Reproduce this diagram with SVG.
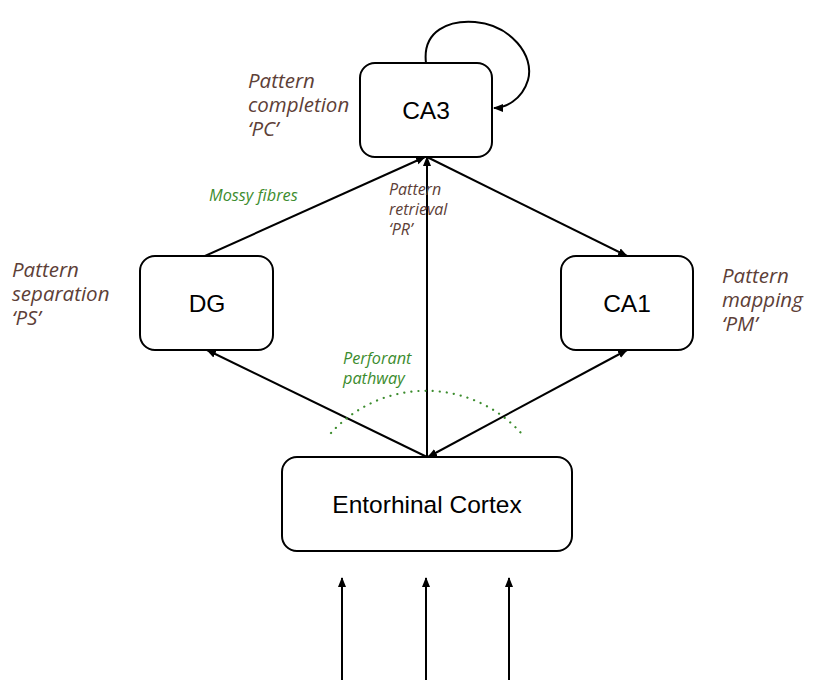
<svg xmlns="http://www.w3.org/2000/svg" width="814" height="697" viewBox="0 0 814 697">
<style>
.box{fill:#fff;stroke:#000;stroke-width:2}
.lbl{font-family:"Liberation Sans",Arial,sans-serif;font-size:24.5px;fill:#000;text-anchor:middle}
.note{font-family:"Open Sans","Noto Sans",sans-serif;font-style:italic;fill:#5d4037;font-size:20.5px}
.small{font-family:"Open Sans","Noto Sans",sans-serif;font-style:italic;fill:#5d4037;font-size:16px}
.green{font-family:"Open Sans","Noto Sans",sans-serif;font-style:italic;fill:#3c8c2e;font-size:16.3px}
.edge{fill:none;stroke:#000;stroke-width:2}
</style>
<defs>
<marker id="ahb" viewBox="0 0 10 10" refX="9" refY="5" markerWidth="10" markerHeight="10" orient="auto-start-reverse" markerUnits="userSpaceOnUse">
<path d="M0,1 L10,5 L0,9 z" fill="#000"/>
</marker>
</defs>
<rect width="814" height="697" fill="#fff"/>
<g id="connectors">
<path class="edge" d="M426,63 C422,30 450,20 475,22 C510,25 535,55 528,80 C522,100 505,108 494,108" marker-end="url(#ahb)"/>
<line class="edge" x1="205" y1="256" x2="425" y2="157" marker-end="url(#ahb)"/>
<line class="edge" x1="427" y1="457" x2="427" y2="157" marker-end="url(#ahb)"/>
<line class="edge" x1="427" y1="157" x2="627" y2="256" marker-end="url(#ahb)"/>
<line class="edge" x1="427" y1="457" x2="207" y2="350" marker-end="url(#ahb)"/>
<line class="edge" x1="428" y1="457" x2="627" y2="350" marker-start="url(#ahb)" marker-end="url(#ahb)"/>
<line class="edge" x1="342" y1="680" x2="342" y2="578" marker-end="url(#ahb)"/>
<line class="edge" x1="426" y1="680" x2="426" y2="578" marker-end="url(#ahb)"/>
<line class="edge" x1="509" y1="680" x2="509" y2="578" marker-end="url(#ahb)"/>
<path d="M331,433 A128,128 0 0 1 521,433" fill="none" stroke="#3c8c2e" stroke-width="2.2" stroke-linecap="round" stroke-dasharray="0.1 7"/>
</g>
<g id="CA3">
<rect class="box" x="360" y="63" width="132" height="94" rx="15"/>
<text class="lbl" x="426" y="119">CA3</text>
</g>
<g id="DG">
<rect class="box" x="140" y="256" width="133" height="94" rx="15"/>
<text class="lbl" x="207" y="312">DG</text>
</g>
<g id="CA1">
<rect class="box" x="561" y="256" width="132" height="94" rx="15"/>
<text class="lbl" x="627" y="312">CA1</text>
</g>
<g id="EC">
<rect class="box" x="282" y="457" width="290" height="94" rx="15"/>
<text class="lbl" x="427" y="513">Entorhinal Cortex</text>
</g>
<g id="labels">
<text class="note" x="248" y="88">Pattern</text>
<text class="note" x="248" y="112">completion</text>
<text class="note" x="248" y="136">‘PC’</text>
<text class="note" x="12" y="277">Pattern</text>
<text class="note" x="12" y="301">separation</text>
<text class="note" x="12" y="325">‘PS’</text>
<text class="note" x="722" y="283">Pattern</text>
<text class="note" x="722" y="307">mapping</text>
<text class="note" x="722" y="331">‘PM’</text>
<text class="small" x="389" y="195">Pattern</text>
<text class="small" x="389" y="215">retrieval</text>
<text class="small" x="389" y="235">‘PR’</text>
<text class="green" x="209" y="201">Mossy fibres</text>
<text class="green" x="343" y="364">Perforant</text>
<text class="green" x="343" y="384">pathway</text>
</g>
</svg>
